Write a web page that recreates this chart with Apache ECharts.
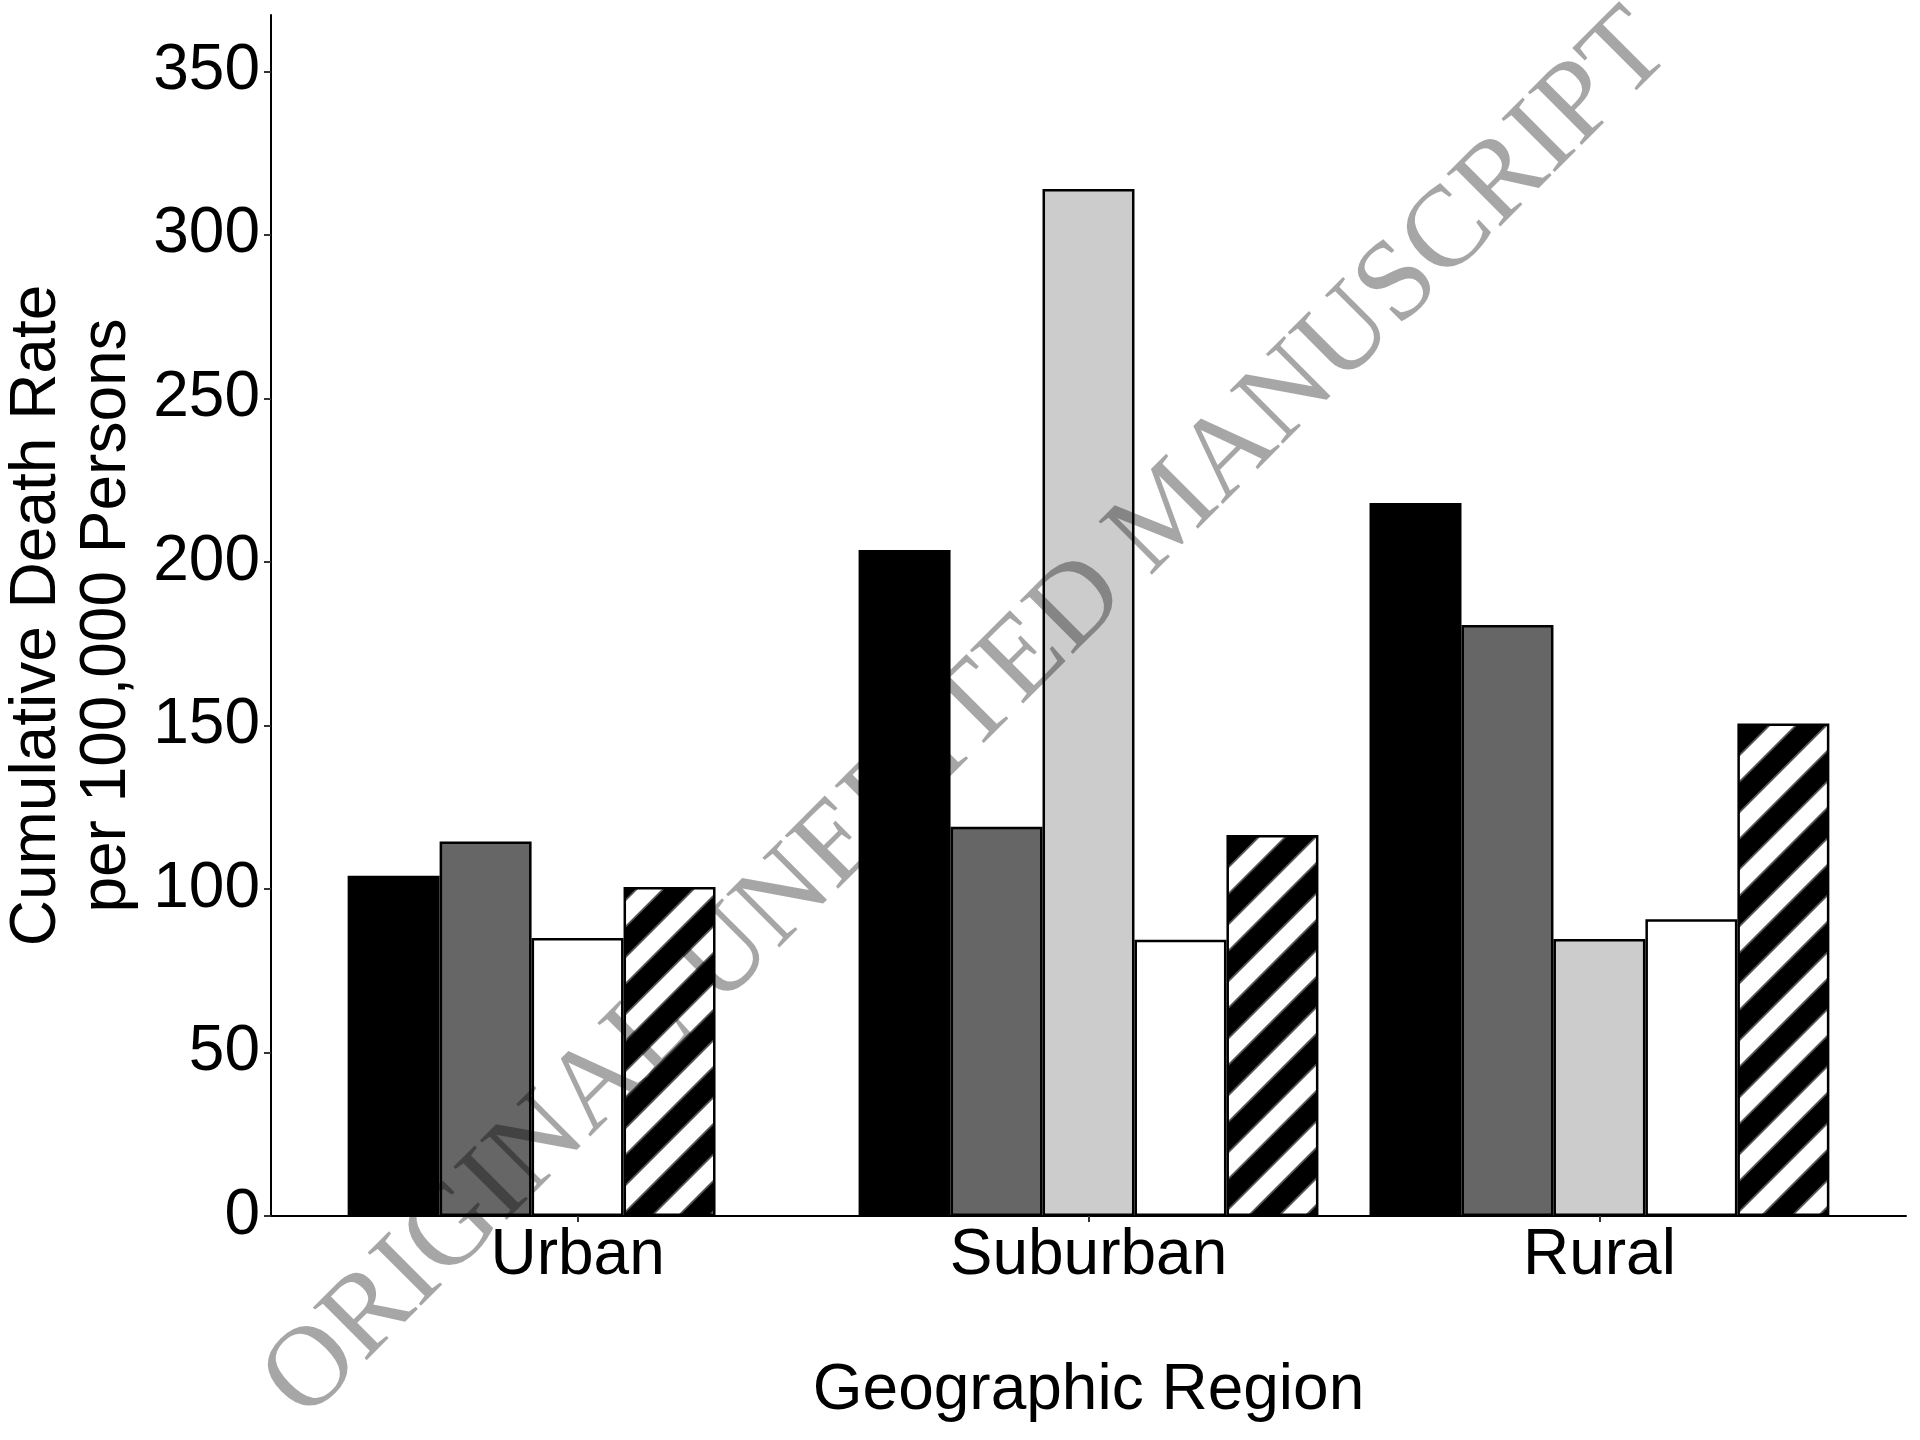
<!DOCTYPE html>
<html>
<head>
<meta charset="utf-8">
<script src="https://cdn.jsdelivr.net/npm/echarts@6/dist/echarts.min.js"></script>
<style>
  html, body { margin: 0; padding: 0; background: #fff; }
  #chart { width: 1920px; height: 1440px; }
</style>
</head>
<body>
<div id="chart"></div>
<script>
// data
const regions = ['Urban', 'Suburban', 'Rural'];
const black = [104, 203.6, 218];
const darkGray = [114.5, 119, 180.7];
const lightGray = [null, 314, 84.7];   // no light gray bar for Urban
const white = [85, 84.5, 90.7];
const hatched = [100.6, 116.5, 150.6];
const yTicks = [0, 50, 100, 150, 200, 250, 300, 350];
const xTicks = [1, 2, 3];

const FONT = 'Liberation Sans';

// diagonal black/white stripe tile
function makeHatch() {
  const s = 57;
  const c = document.createElement('canvas');
  c.width = s;
  c.height = s;
  const ctx = c.getContext('2d');
  ctx.fillStyle = '#000';
  ctx.fillRect(0, 0, s, s);
  [[20.5, '#555'], [17, '#fff']].forEach(([w, col]) => {
    ctx.strokeStyle = col;
    ctx.lineWidth = w;
    for (let k = -1; k <= 2; k++) {
      const d = k * s;
      ctx.beginPath();
      ctx.moveTo(d + 100, -100);
      ctx.lineTo(d - 100, 100);
      ctx.stroke();
    }
  });
  return { image: c, repeat: 'repeat' };
}

const fills = [
  { values: black, color: '#000000' },
  { values: darkGray, color: '#666666' },
  { values: lightGray, color: '#cccccc' },
  { values: white, color: '#ffffff' },
  { values: hatched, color: makeHatch() }
];

// dodge like ggplot preserve = "single": missing bars leave the gap at the right
const slots = [[], [], [], [], []];
regions.forEach((r, i) => {
  let j = 0;
  fills.forEach(f => {
    const v = f.values[i];
    if (v == null) return;
    slots[j].push({ value: [i + 1, v], itemStyle: { color: f.color } });
    j++;
  });
});

const chart = echarts.init(document.getElementById('chart'));

chart.setOption({
  backgroundColor: '#fff',
  animation: false,
  grid: { left: 271, right: 14, top: 15, bottom: 224, outerBoundsMode: 'none', containLabel: false },
  xAxis: {
    type: 'value',
    min: 0.4,
    max: 3.6,
    splitLine: { show: false },
    axisLine: { show: true, onZero: false, lineStyle: { color: '#000', width: 2 } },
    axisTick: { show: true, customValues: xTicks, length: 6, lineStyle: { color: '#333', width: 2 } },
    axisLabel: {
      customValues: xTicks,
      formatter: v => regions[Math.round(v) - 1],
      fontSize: 64, lineHeight: 64, fontFamily: FONT, color: '#000', margin: 8
    },
    name: 'Geographic Region',
    nameLocation: 'middle',
    nameGap: 143,
    nameTextStyle: { fontSize: 64, lineHeight: 64, fontFamily: FONT, color: '#000' }
  },
  yAxis: {
    type: 'value',
    min: 0,
    max: 367.2,
    splitLine: { show: false },
    axisLine: { show: true, lineStyle: { color: '#000', width: 2 } },
    axisTick: { show: true, customValues: yTicks, length: 7, lineStyle: { color: '#333', width: 2 } },
    axisLabel: {
      customValues: yTicks,
      fontSize: 64, fontFamily: FONT, color: '#000', margin: 11
    },
    name: 'Cumulative Death Rate\nper 100,000 Persons',
    nameLocation: 'middle',
    nameRotate: 90,
    nameGap: 128,
    nameTextStyle: { fontSize: 64, lineHeight: 70, fontFamily: FONT, color: '#000', align: 'center' }
  },
  series: slots.map(data => ({
    type: 'bar',
    data: data,
    barGap: '0%',
    barCategoryGap: '10%',
    itemStyle: { borderColor: '#000', borderWidth: 2.5 }
  })),
  graphic: [{
    type: 'text',
    silent: true,
    z: 100,
    x: 968,
    y: 716,
    rotation: Math.PI / 4,
    style: {
      text: 'ORIGINAL UNEDITED MANUSCRIPT',
      font: '115px "Liberation Serif"',
      fill: 'rgba(0,0,0,0.35)',
      align: 'center',
      verticalAlign: 'middle'
    }
  }]
});
</script>
</body>
</html>
